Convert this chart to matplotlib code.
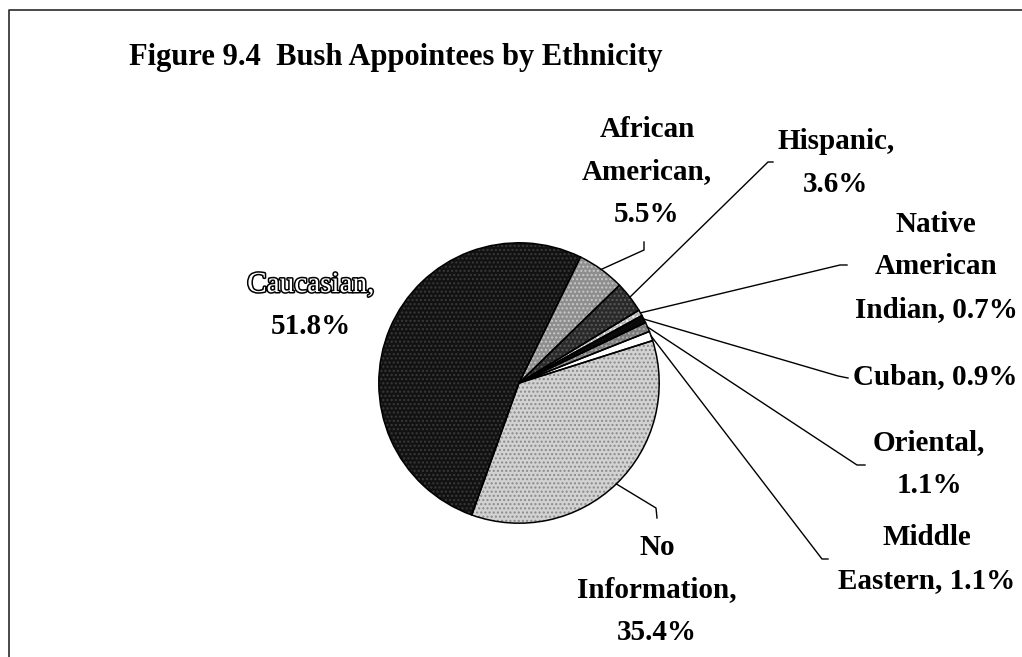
import matplotlib
matplotlib.use("Agg")
import matplotlib.pyplot as plt
import matplotlib.patheffects as pe
import numpy as np
from matplotlib.lines import Line2D

# ---- data -------------------------------------------------------------
categories = ["African American", "Hispanic", "Native American Indian", "Cuban",
              "Oriental", "Middle Eastern", "No Information", "Caucasian"]
shares = [5.5, 3.6, 0.7, 0.9, 1.1, 1.1, 35.4, 51.8]
# how each category name is broken over lines in its label
label_names = ["African\nAmerican", "Hispanic", "Native\nAmerican\nIndian", "Cuban",
               "Oriental", "Middle\nEastern", "No\nInformation", "Caucasian"]
label_seps = ["\n", "\n", " ", " ", "\n", " ", "\n", "\n"]
title = "Figure 9.4  Bush Appointees by Ethnicity"

# ---- styling ------------------------------------------------------------
fill_colors = ["#8e8e8e", "#2a2a2a", "#b8b8b8", "#0a0a0a",
               "#7c7c7c", "#ffffff", "#d2d2d2", "#121212"]
grain_colors = ["#c8c8c8", "#5a5a5a", "#ffffff", "#0a0a0a",
                "#b0b0b0", "#ffffff", "#8a8a8a", "#3a3a3a"]
W, H = 1022, 657
SERIF = ["Liberation Serif", "DejaVu Serif"]

# label block centres and leader elbows, in pixels from the top-left corner
label_pos = [(647, 172), (836, 163), (936, 267), (935, 377),
             (929, 464), (927, 559), (657, 590), (311, 306)]
leader_elbows = [
    [(644, 242), (644, 250)],
    [(773, 162), (768, 162)],
    [(847, 265), (840, 265)],
    [(848, 378), (838, 376)],
    [(865, 465), (857, 465)],
    [(828, 559), (822, 559)],
    [(657, 518), (656, 508)],
    None,
]


def fig_xy(x, y):
    return x / W, 1 - y / H


plt.rcParams["hatch.linewidth"] = 1.0

fig = plt.figure(figsize=(W / 100, H / 100), dpi=100)
fig.patch.set_facecolor("white")

# chart frame (left and top edges)
fx0, fy0 = fig_xy(9, 10)
fig.add_artist(Line2D([fx0, fx0, 1.0], [0.0, fy0, fy0], transform=fig.transFigure,
                      color="#2a2a2a", lw=1.2))

fig.text(*fig_xy(396, 58), title, ha="center", va="center",
         fontsize=22, fontweight="bold", family=SERIF)

# pie: centre (519, 383) px, radius 143 px
cx, cy, r = 519, 383, 143
ax = fig.add_axes([(cx - r) / W, (H - cy - r) / H, 2 * r / W, 2 * r / H])
# filled wedges with a fine stipple grain
grain, _ = ax.pie(shares, colors=fill_colors, startangle=64, counterclock=False,
                  radius=1.0, wedgeprops=dict(linewidth=0))
for w, gc in zip(grain, grain_colors):
    w.set_hatch("....")
    w.set_edgecolor(gc)
    w.set_linewidth(0)
# outlines on top
wedges, _ = ax.pie(shares, colors=["none"] * len(shares), startangle=64,
                   counterclock=False, radius=1.0,
                   wedgeprops=dict(edgecolor="black", linewidth=1.1, fill=False))
ax.set_xlim(-1.02, 1.02)
ax.set_ylim(-1.02, 1.02)
ax.set_aspect("equal")
ax.axis("off")

fig.canvas.draw()
to_fig = fig.transFigure.inverted()

for i, (w, name, sep, val) in enumerate(zip(wedges, label_names, label_seps, shares)):
    lx, ly = label_pos[i]
    if categories[i] == "Caucasian":
        # name drawn in outline lettering, value in solid bold
        fig.text(*fig_xy(lx, ly - 21), f"{name},", ha="center", va="center",
                 fontsize=21, color="white", family=SERIF,
                 path_effects=[pe.withStroke(linewidth=2.2, foreground="black")])
        fig.text(*fig_xy(lx, ly + 21), f"{val:.1f}%", ha="center", va="center",
                 fontsize=21, fontweight="bold", family=SERIF)
    else:
        fig.text(*fig_xy(lx, ly), f"{name},{sep}{val:.1f}%", ha="center", va="center",
                 fontsize=21, fontweight="bold", family=SERIF, linespacing=1.75,
                 multialignment="center")
    elbows = leader_elbows[i]
    if elbows:
        mid = np.deg2rad((w.theta1 + w.theta2) / 2)
        px, py = to_fig.transform(ax.transData.transform((np.cos(mid), np.sin(mid))))
        xs = [fig_xy(*p)[0] for p in elbows] + [px]
        ys = [fig_xy(*p)[1] for p in elbows] + [py]
        fig.add_artist(Line2D(xs, ys, transform=fig.transFigure, color="black", lw=1.0))

fig.savefig("out.png", dpi=100, facecolor="white")
